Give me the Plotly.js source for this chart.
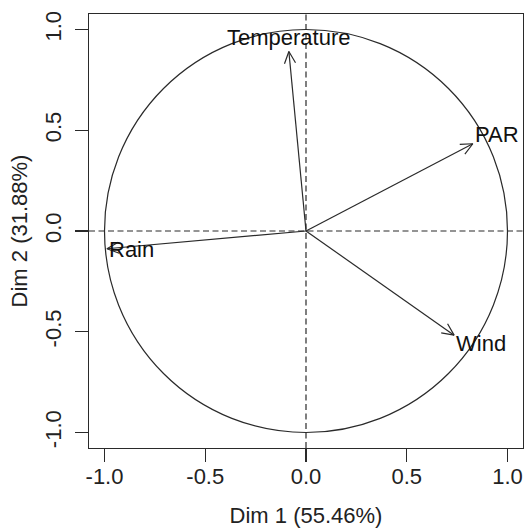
<!DOCTYPE html>
<html>
<head>
<meta charset="utf-8">
<script src="https://cdn.plot.ly/plotly-3.0.1.min.js"></script>
<style>html,body{margin:0;padding:0;background:#fff;}#chart{width:525px;height:529px;}</style>
</head>
<body>
<div id="chart"></div>
<script>
// Data: variable coordinates on the first two PCA dimensions
const variables = ["Temperature", "PAR", "Wind", "Rain"];
const dim1 = [-0.085, 0.828, 0.735, -0.988];
const dim2 = [0.891, 0.433, -0.517, -0.088];
const tickVals = [-1, -0.5, 0, 0.5, 1];
const tickLabels = ["-1.0", "-0.5", "0.0", "0.5", "1.0"];
const xTitle = "Dim 1 (55.46%)";
const yTitle = "Dim 2 (31.88%)";

// Label placement styles (per variable)
const labelStyle = {
  "Temperature": {xanchor: "center", yanchor: "bottom", xshift: 0, yshift: -1},
  "PAR": {xanchor: "left", yanchor: "middle", xshift: 0, yshift: 9},
  "Wind": {xanchor: "left", yanchor: "middle", xshift: 0, yshift: -8},
  "Rain": {xanchor: "left", yanchor: "middle", xshift: 0, yshift: -1}
};

const lineCol = "#2a2a2a";
const FONT = "Liberation Sans, Arial, Helvetica, sans-serif";
const FS = 22;
const R = 1.077;
const headLen = 0.065, headAng = 25 * Math.PI / 180;

const traces = [];
variables.forEach((v, i) => {
  const x = dim1[i], y = dim2[i];
  const a = Math.atan2(y, x);
  const h1x = x - headLen * Math.cos(a - headAng), h1y = y - headLen * Math.sin(a - headAng);
  const h2x = x - headLen * Math.cos(a + headAng), h2y = y - headLen * Math.sin(a + headAng);
  traces.push({
    type: "scatter", mode: "lines",
    x: [0, x, null, h1x, x, h2x],
    y: [0, y, null, h1y, y, h2y],
    line: {color: lineCol, width: 1.2},
    hoverinfo: "skip", showlegend: false
  });
});
// invisible trace on overlay axes so tick-only axes render
traces.push({type: "scatter", mode: "none", x: [0], y: [0], xaxis: "x2", yaxis: "y2",
  hoverinfo: "skip", showlegend: false});

const annotations = variables.map((v, i) => Object.assign({
  x: dim1[i], y: dim2[i], xref: "x", yref: "y", text: v, showarrow: false,
  font: {family: FONT, size: FS, color: "#111"}
}, labelStyle[v]));

const tf = {family: FONT, size: FS, color: "#222"};
const layout = {
  width: 525, height: 529,
  margin: {l: 89, r: 2, t: 14, b: 81},
  paper_bgcolor: "#fff", plot_bgcolor: "#fff",
  showlegend: false,
  font: tf,
  xaxis: {
    range: [-R, R], tickvals: tickVals, ticktext: tickLabels,
    ticks: "outside", ticklen: 8, tickwidth: 1.2, tickcolor: lineCol,
    showline: true, mirror: true, linecolor: lineCol, linewidth: 1.3,
    showgrid: false, zeroline: false,
    tickfont: tf,
    title: {text: xTitle, font: tf, standoff: 20}
  },
  yaxis: {
    range: [-R, R], tickvals: tickVals, ticktext: tickLabels,
    ticks: "outside", ticklen: 13, tickwidth: 1.2, tickcolor: lineCol,
    tickangle: -90, ticklabelstandoff: 5,
    showline: true, mirror: true, linecolor: lineCol, linewidth: 1.3,
    showgrid: false, zeroline: false,
    tickfont: tf,
    title: {text: yTitle, font: tf, standoff: 7}
  },
  xaxis2: {
    overlaying: "x", matches: "x", range: [-R, R], tickvals: tickVals,
    ticks: "outside", ticklen: 13, tickwidth: 1.2, tickcolor: lineCol,
    showticklabels: false, showline: false, showgrid: false, zeroline: false, side: "bottom"
  },
  yaxis2: {
    overlaying: "y", range: [-R, R], showticklabels: false, ticks: "",
    showline: false, showgrid: false, zeroline: false
  },
  shapes: [
    {type: "circle", xref: "x", yref: "y", x0: -1, x1: 1, y0: -1, y1: 1,
     line: {color: lineCol, width: 1.2}},
    {type: "line", xref: "paper", yref: "y", x0: 0, x1: 1, y0: 0, y1: 0,
     line: {color: lineCol, width: 1.2, dash: "6px,3.5px"}},
    {type: "line", xref: "x", yref: "paper", x0: 0, x1: 0, y0: 0, y1: 1,
     line: {color: lineCol, width: 1.2, dash: "6px,3.5px"}}
  ],
  annotations: annotations
};

Plotly.newPlot("chart", traces, layout, {displayModeBar: false, staticPlot: true});
</script>
</body>
</html>
